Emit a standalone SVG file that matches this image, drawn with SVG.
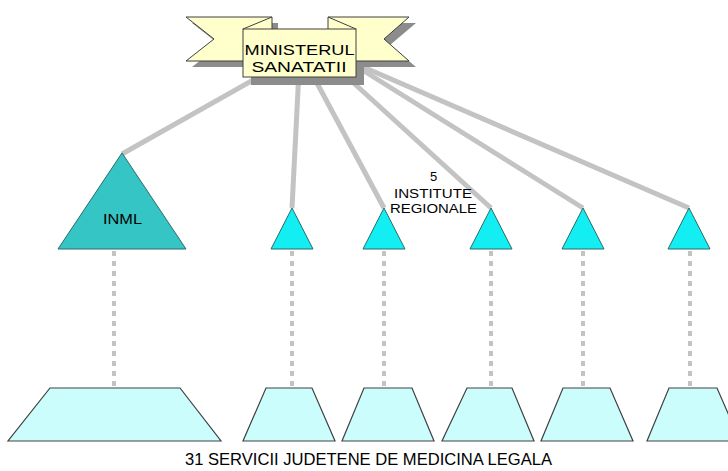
<svg xmlns="http://www.w3.org/2000/svg" width="728" height="471" viewBox="0 0 728 471">
<style>
.conn{stroke:#c3c3c3;stroke-width:5;fill:none;stroke-linecap:butt}
.dot{stroke:#c3c3c3;stroke-width:4;fill:none;stroke-dasharray:5 5}
.ribbon{fill:#ffffcc;stroke:#404040;stroke-width:1}
.shadow{fill:#8c8c8c;stroke:none}
.big{fill:#36c5c5;stroke:#2b6b6b;stroke-width:1}
.tri{fill:#12eef2;stroke:#2b6b6b;stroke-width:1}
.trap{fill:#ccfdfd;stroke:#404040;stroke-width:1.2}
text{font-family:"Liberation Sans",Arial,sans-serif;fill:#000}
</style>
<rect width="728" height="471" fill="#ffffff"/>
<g id="connectors">
<line class="conn" x1="260" y1="76" x2="122" y2="154"/>
<line class="conn" x1="299" y1="70" x2="292" y2="208"/>
<line class="conn" x1="310" y1="70" x2="384" y2="208"/>
<line class="conn" x1="335" y1="66" x2="491" y2="208"/>
<line class="conn" x1="340" y1="56" x2="583" y2="208"/>
<line class="conn" x1="340" y1="57" x2="689" y2="208"/>
<line class="dot" x1="114" y1="251" x2="114" y2="388"/>
<line class="dot" x1="292" y1="251" x2="292" y2="388"/>
<line class="dot" x1="384" y1="251" x2="384" y2="388"/>
<line class="dot" x1="491" y1="251" x2="491" y2="388"/>
<line class="dot" x1="583" y1="251" x2="583" y2="388"/>
<line class="dot" x1="690" y1="251" x2="690" y2="388"/>
</g>
<g id="ministerul">
<polygon class="shadow" points="192,23 278,23 278,67 192,67 220,45"/>
<polygon class="shadow" points="334,23 416,23 390,45 416,67 334,67"/>
<rect class="shadow" x="251" y="37" width="113" height="48"/>
<polygon class="ribbon" points="186,17 272,17 272,61 186,61 214,39"/>
<polygon class="ribbon" points="328,17 409,17 384,39 409,61 328,61"/>
<rect class="ribbon" x="243" y="29" width="113" height="48"/>
<line x1="243" y1="29" x2="272" y2="17" stroke="#404040" stroke-width="1"/>
<line x1="356" y1="29" x2="328" y2="17" stroke="#404040" stroke-width="1"/>
<text x="299.5" y="55" font-size="15" text-anchor="middle" textLength="110" lengthAdjust="spacingAndGlyphs">MINISTERUL</text>
<text x="299" y="72" font-size="15" text-anchor="middle" textLength="95" lengthAdjust="spacingAndGlyphs">SANATATII</text>
</g>
<g id="inml">
<polygon class="big" points="122,153 186,249 58,249"/>
<text x="122.5" y="224" font-size="15" text-anchor="middle" textLength="39" lengthAdjust="spacingAndGlyphs">INML</text>
</g>
<g id="inst1"><polygon class="tri" points="292,208 313,249 271,249"/></g>
<g id="inst2"><polygon class="tri" points="384,208 405,249 363,249"/></g>
<g id="inst3"><polygon class="tri" points="491,208 512,249 470,249"/></g>
<g id="inst4"><polygon class="tri" points="583,208 604,249 562,249"/></g>
<g id="inst5"><polygon class="tri" points="689,208 710,249 668,249"/></g>
<g id="label-institute">
<text x="433.5" y="181" font-size="13" text-anchor="middle">5</text>
<text x="433" y="198" font-size="13" text-anchor="middle" textLength="78" lengthAdjust="spacingAndGlyphs">INSTITUTE</text>
<text x="433.5" y="213" font-size="13" text-anchor="middle" textLength="87" lengthAdjust="spacingAndGlyphs">REGIONALE</text>
</g>
<g id="serv1"><polygon class="trap" points="50,388 180,388 221,441 8,441"/></g>
<g id="serv2"><polygon class="trap" points="266,388 312,388 335,441 243,441"/></g>
<g id="serv3"><polygon class="trap" points="364,388 412,388 434,441 342,441"/></g>
<g id="serv4"><polygon class="trap" points="467,388 512,388 534,441 442,441"/></g>
<g id="serv5"><polygon class="trap" points="563,388 610,388 633,441 541,441"/></g>
<g id="serv6"><polygon class="trap" points="669,388 717,388 740,441 647,441"/></g>
<g id="label-servicii">
<text x="368.5" y="465" font-size="17" text-anchor="middle" textLength="367" lengthAdjust="spacingAndGlyphs">31 SERVICII JUDETENE DE MEDICINA LEGALA</text>
</g>
</svg>
